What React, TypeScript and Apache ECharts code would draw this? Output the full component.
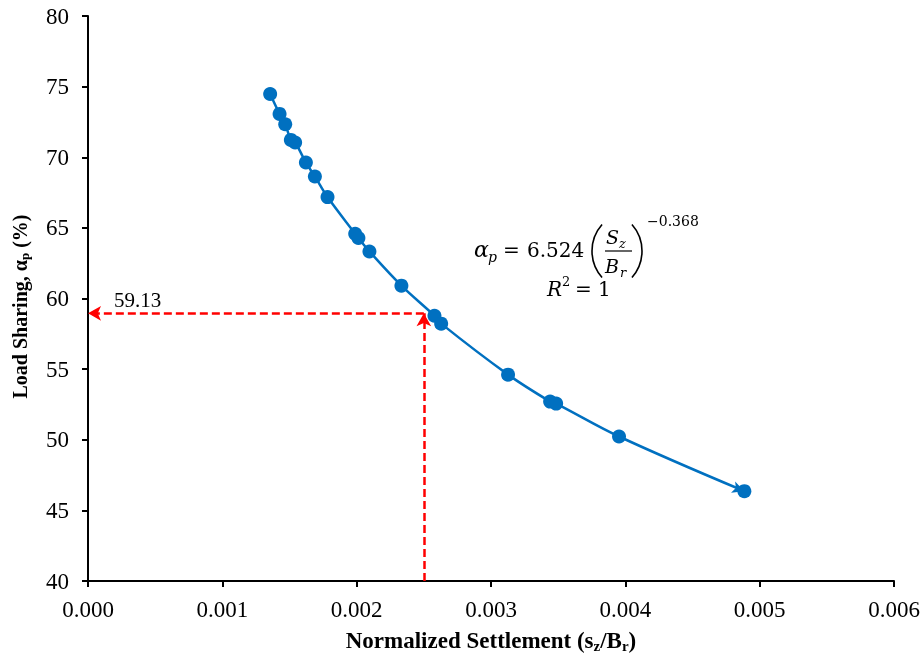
import React, { useEffect, useRef } from 'react';
import * as echarts from 'echarts';

const settlement = [0.001356, 0.001426, 0.001468, 0.00151, 0.001542, 0.001622, 0.001689, 0.001783, 0.001989, 0.002013, 0.002095, 0.002333, 0.002579, 0.002629, 0.003127, 0.00344, 0.003485, 0.003953, 0.004886];
const loadSharing = [74.48, 73.07, 72.34, 71.23, 71.04, 69.63, 68.64, 67.18, 64.58, 64.28, 63.33, 60.91, 58.78, 58.22, 54.61, 52.7, 52.56, 50.23, 46.36];
const refSettlement = 0.0025;
const refLoadSharing = 58.95;
const refLabel = '59.13';
const xRange = [0, 0.006, 0.001];
const yRange = [40, 80, 5];

const SERIF = "'Liberation Serif', 'Times New Roman', serif";
const MATH = "'DejaVu Serif', serif";
const BLUE = '#0070C0';

export default function App() {
  const ref = useRef<HTMLDivElement>(null);
  useEffect(() => {
    if (!ref.current) return;
    const chart = echarts.init(ref.current, null, { renderer: 'svg' });
    const pts = settlement.map((x, i) => [x, loadSharing[i]]);
    const linePts: any[] = pts.map((p, i) =>
      i === pts.length - 1
        ? { value: p, symbol: 'arrow', symbolSize: [9, 12], symbolRotate: -110, symbolOffset: [0, 0] }
        : { value: p }
    );
    const mathText = (text: string, x: number, y: number, size: number, italic = false) => ({
      type: 'text',
      x,
      y,
      style: {
        text,
        fontFamily: MATH,
        fontSize: size,
        fontStyle: italic ? 'italic' : 'normal',
        fill: '#000',
        verticalAlign: 'middle',
      },
    });
    const PA = 0.725;
    chart.setOption({
      animation: false,
      grid: { left: 88, top: 16, width: 806, height: 565, containLabel: false, outerBoundsMode: 'none' },
      xAxis: {
        type: 'value',
        min: xRange[0],
        max: xRange[1],
        interval: xRange[2],
        name: '{b|Normalized Settlement (s}{sub|z}{b|/B}{sub|r}{b|)}',
        nameLocation: 'middle',
        nameGap: 46,
        nameTextStyle: {
          rich: {
            b: { fontFamily: SERIF, fontWeight: 'bold', fontSize: 23, color: '#000' },
            sub: { fontFamily: SERIF, fontWeight: 'bold', fontSize: 15, color: '#000', padding: [11, 0, 0, 0] },
          },
        },
        axisLine: { lineStyle: { color: '#000', width: 2 } },
        axisTick: { show: true, length: 6, lineStyle: { color: '#000', width: 2 } },
        splitLine: { show: false },
        axisLabel: {
          formatter: (v: number) => v.toFixed(3),
          fontFamily: SERIF,
          fontSize: 23,
          color: '#000',
          margin: 17,
        },
      },
      yAxis: {
        type: 'value',
        min: yRange[0],
        max: yRange[1],
        interval: yRange[2],
        name: '{b|Load Sharing, α}{sub|p}{b| (%)}',
        nameLocation: 'middle',
        nameGap: 57,
        nameRotate: 90,
        nameTextStyle: {
          padding: [0, 16, 0, 0],
          rich: {
            b: { fontFamily: SERIF, fontWeight: 'bold', fontSize: 20, color: '#000' },
            sub: { fontFamily: SERIF, fontWeight: 'bold', fontSize: 13, color: '#000', padding: [10, 0, 0, 0] },
          },
        },
        axisLine: { show: true, lineStyle: { color: '#000', width: 2 } },
        axisTick: { show: true, length: 6, lineStyle: { color: '#000', width: 2 } },
        splitLine: { show: false },
        axisLabel: { fontFamily: SERIF, fontSize: 23, color: '#000', margin: 19 },
      },
      series: [
        {
          type: 'line',
          data: linePts,
          smooth: 0.35,
          symbol: 'none',
          showSymbol: true,
          lineStyle: { color: BLUE, width: 2.5 },
          itemStyle: { color: BLUE },
          z: 2,
          markLine: {
            silent: true,
            symbol: ['none', 'arrow'],
            symbolSize: [11, 13],
            label: { show: false },
            lineStyle: { color: '#FF0000', width: 2.5, type: [8, 4] },
            data: [
              [{ coord: [refSettlement, yRange[0]] }, { coord: [refSettlement, refLoadSharing] }],
              [{ coord: [refSettlement, refLoadSharing] }, { coord: [xRange[0], refLoadSharing] }],
            ],
          },
        },
        {
          type: 'scatter',
          data: pts,
          symbol: 'circle',
          symbolSize: 14,
          itemStyle: { color: BLUE, opacity: 1 },
          z: 3,
        },
      ],
      graphic: [
        { type: 'text', x: 114, y: 300, style: { text: refLabel, fontFamily: SERIF, fontSize: 21, fill: '#000', verticalAlign: 'middle' } },
        mathText('α', 474, 249, 22, true),
        mathText('p', 488, 257, 14, true),
        mathText('=', 503, 250, 20),
        mathText('6.524', 527, 250, 20),
        { type: 'arc', shape: { cx: 632, cy: 251, r: 40, startAngle: Math.PI - PA, endAngle: Math.PI + PA }, style: { stroke: '#000', lineWidth: 1.6, fill: null } },
        mathText('S', 606, 237, 19, true),
        mathText('z', 619, 243, 13, true),
        { type: 'line', shape: { x1: 605, y1: 251, x2: 632, y2: 251 }, style: { stroke: '#000', lineWidth: 1.2 } },
        mathText('B', 605, 266, 19, true),
        mathText('r', 620, 272, 13, true),
        { type: 'arc', shape: { cx: 602, cy: 251, r: 40, startAngle: -PA, endAngle: PA }, style: { stroke: '#000', lineWidth: 1.6, fill: null } },
        mathText('−0.368', 647, 221, 14),
        mathText('R', 547, 289, 20, true),
        mathText('2', 562, 281, 13),
        mathText('= 1', 575, 289, 20),
      ],
    });
    return () => chart.dispose();
  }, []);
  return <div ref={ref} style={{ position: 'fixed', left: 0, top: 0, width: 922, height: 656 }} />;
}
